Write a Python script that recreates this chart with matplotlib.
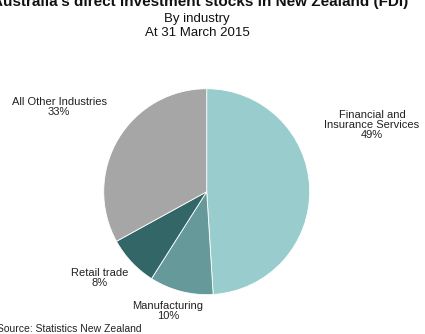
import matplotlib
matplotlib.use('Agg')
import matplotlib.pyplot as plt

plt.rcParams['font.family'] = ['Liberation Sans', 'DejaVu Sans']

industries = ['Financial and\nInsurance Services', 'Manufacturing', 'Retail trade', 'All Other Industries']
shares = [49, 10, 8, 33]
colors = ['#99cccc', '#669999', '#336666', '#a6a6a6']

W, H = 425, 334
fig = plt.figure(figsize=(W / 100, H / 100), dpi=100)

def px(x, y):
    # pixel position measured from the top-left corner -> figure fraction
    return x / W, 1 - y / H

# pie axes: centre (207, 192) px, radius 104 px
cx, cy, r = 206.7, 191.7, 104
ax = fig.add_axes([(cx - r) / W, (H - cy - r) / H, 2 * r / W, 2 * r / H])
ax.pie(shares, colors=colors, startangle=90, counterclock=False, radius=1,
       wedgeprops=dict(edgecolor='white', linewidth=0.6))
ax.set_xlim(-1.01, 1.01)
ax.set_ylim(-1.01, 1.01)
ax.set_aspect('equal')
ax.axis('off')

# slice labels
label_pos = [(372, 125), (168, 311), (100, 278), (59, 107)]
for name, pct, (lx, ly) in zip(industries, shares, label_pos):
    fig.text(*px(lx, ly), f'{name}\n{pct}%', ha='center', va='center',
             fontsize=8, color='#222222', linespacing=1.0)

fig.text(*px(200, 6), "Australia's direct investment stocks in New Zealand (FDI)",
         ha='center', va='baseline', fontsize=11, fontweight='bold', color='#111111')
fig.text(*px(197, 19), 'By industry', ha='center', va='center', fontsize=9.5, color='#111111')
fig.text(*px(197, 33), 'At 31 March 2015', ha='center', va='center', fontsize=9.5, color='#111111')
fig.text(*px(-3, 329), 'Source: Statistics New Zealand', ha='left', va='center',
         fontsize=7.5, color='#222222')

fig.savefig('out.png', dpi=100)
